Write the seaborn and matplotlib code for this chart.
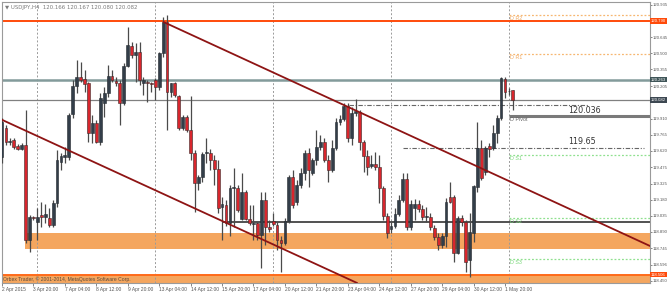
import numpy as np
import pandas as pd
import matplotlib
matplotlib.use("Agg")
import matplotlib.pyplot as plt
import seaborn as sns

# ---------------- data (USDJPY H4 candles) ----------------
opens = [119.566, 119.827, 119.701, 119.719, 119.665, 119.638, 119.674, 118.818, 119.025, 118.980,
         119.043, 119.025, 119.016, 118.953, 119.151, 119.521, 119.566, 119.566, 119.953, 120.205,
         120.286, 120.268, 120.232, 119.782, 119.872, 119.701, 120.052, 120.142, 120.295, 120.250,
         120.232, 120.052, 120.385, 120.566, 120.485, 120.512, 120.232, 120.241, 120.232, 120.259,
         120.196, 120.503, 120.782, 120.151, 120.232, 120.115, 119.827, 119.926, 119.809, 119.602,
         119.331, 119.385, 119.602, 119.602, 119.539, 119.457, 119.115, 119.133, 118.971, 119.286,
         119.286, 119.007, 119.250, 119.007, 118.962, 118.971, 118.863, 119.178, 118.935, 118.989,
         118.953, 118.818, 118.791, 118.989, 119.385, 119.160, 119.313, 119.421, 119.602, 119.421,
         119.539, 119.656, 119.701, 119.539, 119.448, 119.647, 119.881, 119.908, 120.025, 119.737,
         119.962, 119.971, 119.701, 119.575, 119.485, 119.503, 119.475, 119.286, 119.034, 118.917,
         118.944, 119.052, 119.178, 119.367, 118.935, 119.106, 119.142, 119.097, 119.025, 119.025,
         118.926, 118.845, 118.773, 118.854, 119.205, 119.205, 118.701, 119.016, 118.980, 118.638,
         118.881, 119.295, 119.647, 119.430, 119.665, 119.647, 119.782, 119.917, 120.268, 120.158,
         120.166]
highs = [119.917, 119.854, 119.737, 119.737, 119.683, 119.692, 119.989, 119.043, 119.034, 119.106,
         119.160, 119.142, 119.106, 119.178, 119.629, 119.602, 119.656, 119.962, 120.259, 120.439,
         120.421, 120.349, 120.241, 119.944, 119.899, 120.142, 120.196, 120.394, 120.349, 120.286,
         120.259, 120.412, 120.737, 120.602, 120.593, 120.602, 120.286, 120.259, 120.241, 120.277,
         120.512, 120.827, 120.845, 120.232, 120.241, 120.124, 119.944, 119.944, 120.115, 119.629,
         119.403, 119.611, 119.737, 119.638, 119.584, 119.539, 119.205, 119.178, 119.313, 119.466,
         119.313, 119.421, 119.268, 119.133, 119.133, 118.980, 119.250, 119.250, 118.998, 119.061,
         118.980, 118.854, 119.016, 119.403, 119.448, 119.358, 119.466, 119.629, 119.647, 119.557,
         119.809, 119.764, 119.737, 119.584, 119.719, 119.917, 119.944, 120.052, 120.052, 120.016,
         120.088, 119.989, 119.719, 119.629, 119.584, 119.611, 119.584, 119.304, 119.061, 118.980,
         119.106, 119.223, 119.421, 119.421, 119.178, 119.187, 119.178, 119.133, 119.115, 119.061,
         118.953, 118.881, 118.881, 119.196, 119.340, 119.223, 119.034, 119.043, 118.998, 119.061,
         119.313, 119.881, 119.719, 119.665, 119.692, 119.854, 119.944, 120.286, 120.286, 120.187,
         120.167]
lows = [119.512, 119.674, 119.674, 119.638, 119.629, 119.629, 118.791, 118.710, 118.998, 118.818,
        118.935, 118.971, 118.935, 118.935, 119.115, 119.448, 119.512, 119.539, 119.917, 120.142,
        120.241, 120.151, 119.701, 119.692, 119.692, 119.674, 119.926, 120.106, 120.241, 120.205,
        119.854, 120.034, 120.376, 120.457, 120.241, 120.214, 120.124, 120.061, 120.151, 120.079,
        120.169, 120.466, 119.809, 120.106, 120.106, 119.809, 119.809, 119.791, 119.539, 119.070,
        119.268, 119.340, 119.512, 119.448, 119.313, 119.061, 118.818, 118.944, 118.854, 118.935,
        119.070, 118.998, 118.998, 118.953, 118.818, 118.818, 118.566, 118.773, 118.890, 118.944,
        118.728, 118.530, 118.773, 118.971, 119.106, 119.133, 119.286, 119.358, 119.295, 119.403,
        119.494, 119.629, 119.521, 119.340, 119.430, 119.629, 119.854, 119.890, 119.701, 119.674,
        119.935, 119.629, 119.430, 119.403, 119.466, 119.448, 119.151, 118.998, 118.836, 118.881,
        118.926, 119.034, 119.160, 118.908, 118.908, 118.998, 119.070, 118.998, 118.980, 118.908,
        118.818, 118.728, 118.746, 118.755, 119.151, 118.620, 118.692, 118.944, 118.530, 118.485,
        118.800, 119.250, 119.358, 119.403, 119.566, 119.629, 119.692, 119.899, 120.097, 120.124,
        119.990]
closes = [119.881, 119.701, 119.710, 119.656, 119.638, 119.674, 118.818, 119.025, 119.016, 119.025,
          119.025, 119.052, 118.953, 119.151, 119.539, 119.575, 119.584, 119.944, 120.205, 120.286,
          120.259, 120.223, 119.782, 119.872, 119.701, 120.097, 120.142, 120.295, 120.259, 120.232,
          120.052, 120.385, 120.575, 120.485, 120.512, 120.259, 120.259, 120.232, 120.223, 120.196,
          120.503, 120.782, 120.151, 120.232, 120.124, 119.827, 119.926, 119.809, 119.602, 119.331,
          119.385, 119.593, 119.611, 119.539, 119.457, 119.106, 119.142, 118.971, 119.286, 119.295,
          119.088, 119.250, 119.007, 118.971, 118.971, 118.863, 119.178, 118.935, 118.917, 118.962,
          118.818, 118.791, 118.989, 119.385, 119.133, 119.313, 119.421, 119.602, 119.448, 119.539,
          119.656, 119.701, 119.539, 119.448, 119.647, 119.881, 119.908, 120.025, 119.737, 119.962,
          119.980, 119.701, 119.575, 119.475, 119.503, 119.475, 119.286, 119.034, 118.881, 118.944,
          119.052, 119.178, 119.367, 118.935, 119.142, 119.142, 119.097, 119.025, 119.034, 118.935,
          118.845, 118.773, 118.854, 119.160, 119.160, 118.701, 119.016, 118.980, 118.620, 118.890,
          119.304, 119.647, 119.376, 119.647, 119.638, 119.782, 119.917, 120.277, 120.151, 120.162,
          120.082]

x_tick_pos = [0, 8, 16, 24, 32, 40, 48, 56, 64, 72, 80, 88, 96, 104, 112, 120, 128]
x_tick_labels = ["2 Apr 2015", "3 Apr 20:00", "7 Apr 04:00", "8 Apr 12:00", "9 Apr 20:00",
                 "13 Apr 04:00", "14 Apr 12:00", "15 Apr 20:00", "17 Apr 04:00", "20 Apr 12:00",
                 "21 Apr 20:00", "23 Apr 04:00", "24 Apr 12:00", "27 Apr 20:00", "29 Apr 04:00",
                 "30 Apr 12:00", "1 May 20:00"]
y_tick_values = [120.935, 120.645, 120.500, 120.355, 120.205, 119.910, 119.765, 119.620,
                 119.475, 119.325, 119.180, 119.035, 118.890, 118.745, 118.596, 118.450]
y_tick_labels = ["120.935", "120.645", "120.500", "120.355", "120.205", "119.910", "119.765",
                 "119.620", "119.475", "119.325", "119.180", "119.035", "118.890", "118.745",
                 "118.596", "118.450"]

week_separators = [9, 39, 69, 99, 129]
resistance_top = 120.790
level_green = 120.263
bid_price = 120.082
support_black = 118.980
support_black_start = 56
zone_mid = (118.737, 118.881)
zone_mid_start = 6
zone_low = (118.430, 118.506)
pivot_start = 129
pivot_names = ["D R2", "D R1", "D Pivot", "D S1", "D S2", "D S3"]
pivot_values = [120.845, 120.494, 119.935, 119.584, 119.016, 118.647]
dashdot_values = [120.034, 119.650]
dashdot_start = [88.4, 102]
dashdot_end = [149, 163.5]
dashdot_texts = ["120.036", "119.65"]
dashdot_text_y = [119.985, 119.701]
trend_upper = [(41.1, 120.782), (164.9, 118.764)]
trend_lower = [(0.1, 119.899), (90.4, 118.430)]
title_text = "\u25BC USDJPY,H4  120.166 120.167 120.080 120.082"
copyright_text = "Orbex Trader, \u00A9 2001-2014, MetaQuotes Software Corp."

# ---------------- drawing ----------------
sns.set_theme(style="white")
plt.rcParams["font.family"] = ["Liberation Sans", "DejaVu Sans"]

df = pd.DataFrame({"open": opens, "high": highs, "low": lows, "close": closes})
df["idx"] = np.arange(len(df))
df["bull"] = df["close"] >= df["open"]

fig = plt.figure(figsize=(6.7, 2.92), dpi=100)
fig.patch.set_facecolor("white")
ax = fig.add_axes([2 / 670, 9 / 292, 648 / 670, 281 / 292])
ax.set_facecolor("white")
XMIN, XMAX = 0.1, 164.9
YMIN, YMAX = 118.4305, 120.962
ax.set_xlim(XMIN, XMAX)
ax.set_ylim(YMIN, YMAX)

YSMALL = 3.05
XSMALL = 3.5
ORANGE_FILL = "#F4A65F"
# zones
ax.fill_between([zone_mid_start - 0.05, XMAX], zone_mid[0], zone_mid[1], color=ORANGE_FILL, lw=0, zorder=1)
ax.fill_between([XMIN, XMAX], zone_low[0], zone_low[1], color=ORANGE_FILL, lw=0, zorder=1)
ax.axhline(zone_low[1], color="#FF6A1A", lw=1.4, zorder=2)

# separators
for s in week_separators:
    ax.axvline(s, color="#9a9a9a", lw=0.7, ls=(0, (2, 2)), zorder=1.5)

# horizontal levels
ax.axhline(resistance_top, color="#FF4B0A", lw=1.4, zorder=2)
ax.axhline(level_green, color="#839b9b", lw=1.8, zorder=2)
ax.axhline(bid_price, color="#808080", lw=0.9, zorder=2)
ax.hlines(support_black, support_black_start, XMAX, color="#222222", lw=1.1, zorder=2)

# pivot lines
for name, val in zip(pivot_names, pivot_values):
    if name == "D Pivot":
        ax.hlines(val, pivot_start, XMAX, color="#7a7a7a", lw=2.2, zorder=2)
        col, dy = "#666666", -0.03
    elif "R" in name:
        ax.hlines(val, pivot_start, XMAX, color="#F7B770", lw=0.9, ls=(0, (1.5, 1.5)), zorder=2)
        col, dy = "#F0A860", -0.028
    else:
        ax.hlines(val, pivot_start, XMAX, color="#8FE08F", lw=0.9, ls=(0, (1.5, 1.5)), zorder=2)
        col, dy = "#7CD87C", -0.028
    ax.text(pivot_start + 0.4, val + dy, name, fontsize=3.9, color=col, va="center", ha="left", zorder=6)

# dash-dot user levels
for v, s, e, t, ty in zip(dashdot_values, dashdot_start, dashdot_end, dashdot_texts, dashdot_text_y):
    ax.hlines(v, s, e, color="#666666", lw=0.8, ls=(0, (4, 1.5, 1, 1.5)), zorder=2)
    ax.text(144.0, ty, t, fontsize=5.8, color="#333333", va="center", ha="left", zorder=6,
            family=["DejaVu Sans"])

# candles
wick_col = "#4a4a4a"
ax.vlines(df["idx"], df["low"], df["high"], color=wick_col, lw=0.9, zorder=3)
bull = df[df["bull"]]
bear = df[~df["bull"]]
min_h = 0.006
ax.bar(bull["idx"], np.maximum(bull["close"] - bull["open"], min_h), bottom=bull["open"], width=0.72,
       color="#333e49", edgecolor="#262b30", linewidth=0.4, zorder=4)
ax.bar(bear["idx"], np.maximum(bear["open"] - bear["close"], min_h), bottom=bear["close"], width=0.72,
       color="#d8262d", edgecolor="#3a2a2a", linewidth=0.4, zorder=4)

# trend lines
ax.plot([trend_upper[0][0], trend_upper[1][0]], [trend_upper[0][1], trend_upper[1][1]],
        color="#8E1414", lw=1.3, zorder=5)
ax.axline(trend_lower[0], trend_lower[1], color="#8E1414", lw=1.3, zorder=5)

# texts
ax.text(0.005, 0.988, title_text, transform=ax.transAxes, fontsize=3.9, color="#7a7a7a", va="top",
        ha="left", zorder=7, family=["DejaVu Sans"])
ax.text(0.002, (zone_low[0] + zone_low[1]) / 2 - 0.005, copyright_text, fontsize=3.6, color="#5a4a3a",
        va="center", ha="left", transform=ax.get_yaxis_transform(), zorder=7)

# axes / ticks
for sp in ax.spines.values():
    sp.set_color("#9a9a9a")
    sp.set_linewidth(0.8)
ax.yaxis.tick_right()
ax.set_yticks(y_tick_values)
ax.set_yticklabels(y_tick_labels)
ax.tick_params(axis="y", right=True, left=False, length=1.5, width=0.5, pad=0.6, labelsize=YSMALL,
               colors="#555555")
ax.set_xticks(x_tick_pos)
ax.set_xticklabels(x_tick_labels)
ax.tick_params(axis="x", bottom=True, length=2, width=0.5, pad=0.8, labelsize=XSMALL, colors="#555555")
for lbl in ax.get_xticklabels():
    lbl.set_horizontalalignment("left")

# highlighted price labels on the right axis
hl = [(resistance_top, "120.790", "#FF4B0A", "white"),
      (level_green, "120.263", "#3f5558", "white"),
      (bid_price, "120.082", "#3d4852", "white"),
      (zone_low[1], "118.506", "#FF4B0A", "white")]
for v, t, bg, fg in hl:
    ax.text(1.0015, v, t, transform=ax.get_yaxis_transform(), fontsize=YSMALL, color=fg, va="center",
            ha="left", bbox=dict(boxstyle="square,pad=0.2", fc=bg, ec="none"), zorder=10, clip_on=False)

fig.savefig("out.png", dpi=100, facecolor="white")
